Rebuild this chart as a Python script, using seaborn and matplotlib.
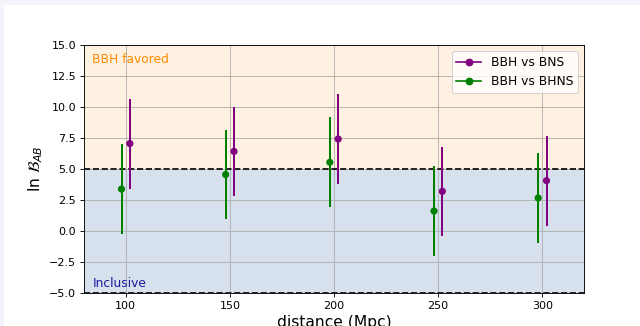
import numpy as np
import pandas as pd
import matplotlib
matplotlib.use("Agg")
import matplotlib.pyplot as plt
from matplotlib.lines import Line2D
from matplotlib.patches import Rectangle
import seaborn as sns

# ---- data ----
distances = [100, 150, 200, 250, 300]
bns_vals = [7.05, 6.42, 7.42, 3.20, 4.06]
bns_errs = [3.63, 3.62, 3.62, 3.60, 3.62]
bhns_vals = [3.38, 4.55, 5.54, 1.61, 2.66]
bhns_errs = [3.60, 3.60, 3.63, 3.63, 3.61]
series_labels = ["BBH vs BNS", "BBH vs BHNS"]
series_colors = ["purple", "green"]
offset = 2

plt.rcParams['font.family'] = ['DejaVu Sans']

fig = plt.figure(figsize=(8, 4.075), dpi=80, facecolor='white')
# page border strips (screenshot margin)
fig.patches.append(Rectangle((0, 0), 4 / 640, 1, transform=fig.transFigure,
                             facecolor='#f3f3fb', edgecolor='none', zorder=-10))
fig.patches.append(Rectangle((0, 1 - 5 / 326), 1, 5 / 326, transform=fig.transFigure,
                             facecolor='#f3f3fb', edgecolor='none', zorder=-10))

ax = fig.add_axes([84 / 640, 1 - 293 / 326, 500 / 640, 248 / 326])

ax.axhspan(5, 15, color='bisque', alpha=0.5, lw=0, zorder=0)
ax.axhspan(-5, 5, color='lightsteelblue', alpha=0.5, lw=0, zorder=0)
ax.axhline(5, color='black', ls='--', lw=1.5, zorder=1)
ax.axhline(-5, color='black', ls='--', lw=1.5, zorder=1)

rows = []
for d, v, e in zip(distances, bns_vals, bns_errs):
    rows.append(dict(distance=d + offset, value=v, err=e, series=series_labels[0]))
for d, v, e in zip(distances, bhns_vals, bhns_errs):
    rows.append(dict(distance=d - offset, value=v, err=e, series=series_labels[1]))
df = pd.DataFrame(rows)

palette = dict(zip(series_labels, series_colors))
for lab in series_labels:
    sub = df[df.series == lab]
    ax.errorbar(sub.distance, sub.value, yerr=sub.err, fmt='none',
                ecolor=palette[lab], elinewidth=1.8, capsize=0, zorder=3)

sns.scatterplot(data=df, x='distance', y='value', hue='series', palette=palette,
                s=42, edgecolor='none', legend=False, ax=ax, zorder=4)

ax.set_xlim(80, 320)
ax.set_ylim(-5, 15)
ax.set_yticks(np.arange(-5, 15.1, 2.5))
ax.grid(True, color='#b0b0b0', lw=0.8, zorder=0.5)
ax.set_axisbelow(True)
ax.tick_params(labelsize=10)

ax.set_xlabel('distance (Mpc)', fontsize=14)
ax.set_ylabel(r'ln $\mathcal{B}_{AB}$', fontsize=14)

ax.text(84, 13.8, 'BBH favored', color='darkorange', fontsize=11, va='center', ha='left')
ax.text(84, -4.2, 'Inclusive', color='#1c1c9c', fontsize=11, va='center', ha='left')

handles = [Line2D([0], [0], color=c, marker='o', ms=6, lw=1.5) for c in series_colors]
ax.legend(handles, series_labels, loc='upper right', fontsize=11, framealpha=0.8)

fig.savefig('out.png', dpi=80, facecolor=fig.get_facecolor())
